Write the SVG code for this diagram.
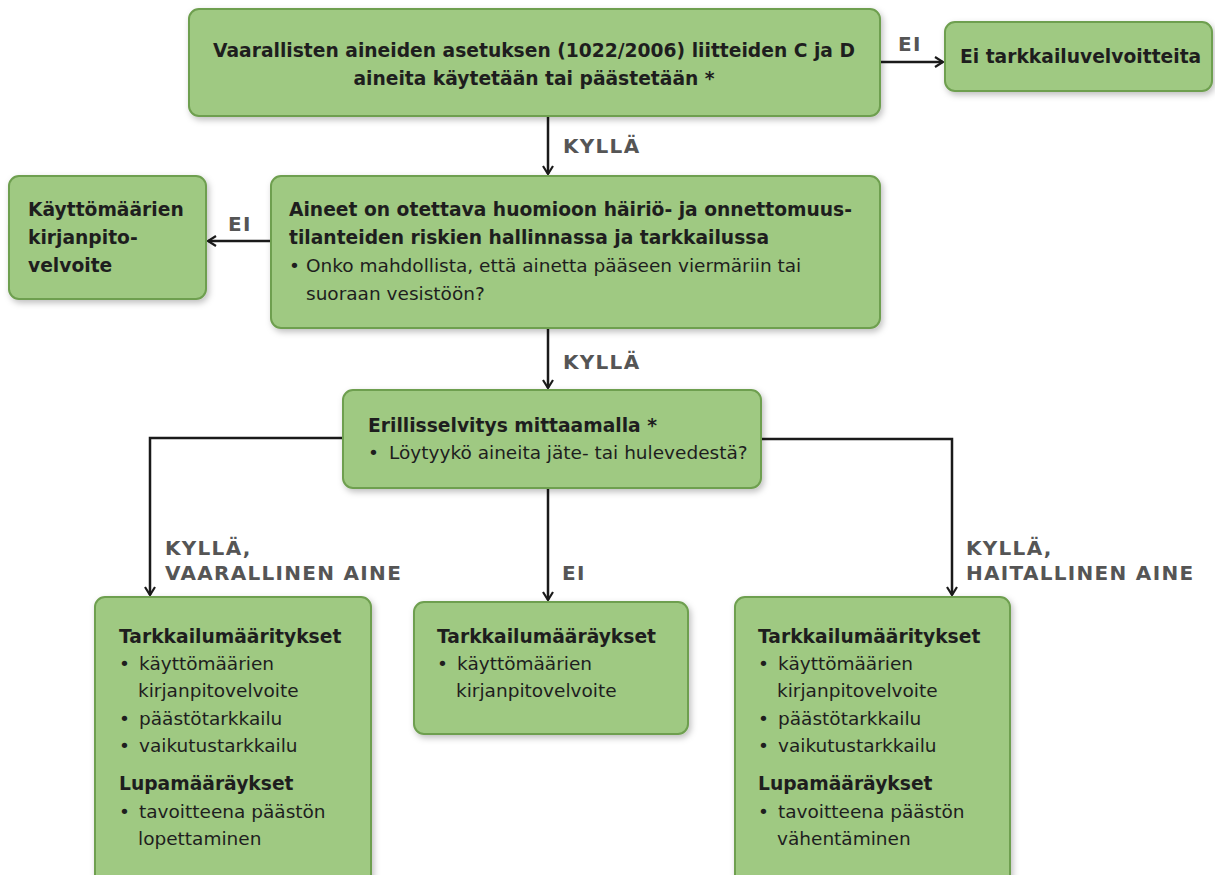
<svg xmlns="http://www.w3.org/2000/svg" width="1215" height="875" viewBox="0 0 1215 875">
<defs>
<filter id="sh" x="-10%" y="-10%" width="130%" height="130%">
<feDropShadow dx="2" dy="3" stdDeviation="3" flood-color="#000" flood-opacity="0.25"/>
</filter>
<marker id="ah" viewBox="0 0 12 12" refX="10" refY="6" markerWidth="12" markerHeight="12" markerUnits="userSpaceOnUse" orient="auto">
<path d="M2,1 L10,6 L2,11" fill="none" stroke="#1a1a1a" stroke-width="2.2"/>
</marker>
</defs>
<style>
.box{fill:#9fc982;stroke:#6e9f4f;stroke-width:2;filter:url(#sh)}
.t{font-family:"DejaVu Sans","Liberation Sans",sans-serif;font-size:18.5px;fill:#1e1e1e}
.b{font-weight:bold;font-size:18.7px}
.lab{font-family:"DejaVu Sans","Liberation Sans",sans-serif;font-size:20px;letter-spacing:1.3px;font-weight:bold;fill:#555}
.c{fill:none;stroke:#1a1a1a;stroke-width:2.5}
</style>
<rect width="1215" height="875" fill="#fff"/>
<g id="connectors">
<path class="c" d="M880,62 H943" marker-end="url(#ah)"/>
<path class="c" d="M548,116 V174" marker-end="url(#ah)"/>
<path class="c" d="M271,241 H208" marker-end="url(#ah)"/>
<path class="c" d="M548,328 V388" marker-end="url(#ah)"/>
<path class="c" d="M343,438 H150 V595" marker-end="url(#ah)"/>
<path class="c" d="M761,439 H952 V595" marker-end="url(#ah)"/>
<path class="c" d="M548,488 V600" marker-end="url(#ah)"/>
<text class="lab" x="898" y="51">EI</text>
<text class="lab" x="563" y="153">KYLLÄ</text>
<text class="lab" x="228" y="231">EI</text>
<text class="lab" x="563" y="369">KYLLÄ</text>
<text class="lab" x="165" y="555">KYLLÄ,</text>
<text class="lab" x="165" y="580">VAARALLINEN AINE</text>
<text class="lab" x="562" y="580">EI</text>
<text class="lab" x="966" y="555">KYLLÄ,</text>
<text class="lab" x="966" y="580">HAITALLINEN AINE</text>
</g>
<g id="n1">
<rect class="box" x="189" y="9" width="691" height="107" rx="10"/>
<text class="t b" x="534" y="57" text-anchor="middle">Vaarallisten aineiden asetuksen (1022/2006) liitteiden C ja D</text>
<text class="t b" x="534" y="85" text-anchor="middle">aineita käytetään tai päästetään *</text>
</g>
<g id="n2">
<rect class="box" x="945" y="22" width="267" height="69" rx="10"/>
<text class="t b" x="960" y="63">Ei tarkkailuvelvoitteita</text>
</g>
<g id="n3">
<rect class="box" x="271" y="176" width="609" height="152" rx="10"/>
<text class="t b" x="289" y="216">Aineet on otettava huomioon häiriö- ja onnettomuus-</text>
<text class="t b" x="289" y="244">tilanteiden riskien hallinnassa ja tarkkailussa</text>
<text class="t" y="272"><tspan x="289">•</tspan><tspan x="306">Onko mahdollista, että ainetta pääseen viermäriin tai</tspan></text>
<text class="t" x="306" y="300">suoraan vesistöön?</text>
</g>
<g id="n4">
<rect class="box" x="9" y="176" width="197" height="123" rx="10"/>
<text class="t b" x="28" y="216">Käyttömäärien</text>
<text class="t b" x="28" y="244">kirjanpito-</text>
<text class="t b" x="28" y="272">velvoite</text>
</g>
<g id="n5">
<rect class="box" x="343" y="390" width="418" height="98" rx="10"/>
<text class="t b" x="368" y="432">Erillisselvitys mittaamalla *</text>
<text class="t" y="459"><tspan x="368">•</tspan><tspan x="389">Löytyykö aineita jäte- tai hulevedestä?</tspan></text>
</g>
<g id="n6">
<rect class="box" x="95" y="597" width="276" height="290" rx="10"/>
<text class="t b" x="119" y="643">Tarkkailumääritykset</text>
<text class="t" y="670"><tspan x="119">•</tspan><tspan x="139">käyttömäärien</tspan></text>
<text class="t" x="138" y="697">kirjanpitovelvoite</text>
<text class="t" y="725"><tspan x="119">•</tspan><tspan x="139">päästötarkkailu</tspan></text>
<text class="t" y="752"><tspan x="119">•</tspan><tspan x="139">vaikutustarkkailu</tspan></text>
<text class="t b" x="119" y="790">Lupamääräykset</text>
<text class="t" y="818"><tspan x="119">•</tspan><tspan x="139">tavoitteena päästön</tspan></text>
<text class="t" x="138" y="845">lopettaminen</text>
</g>
<g id="n7">
<rect class="box" x="414" y="602" width="274" height="132" rx="10"/>
<text class="t b" x="437" y="643">Tarkkailumääräykset</text>
<text class="t" y="670"><tspan x="437">•</tspan><tspan x="457">käyttömäärien</tspan></text>
<text class="t" x="456" y="697">kirjanpitovelvoite</text>
</g>
<g id="n8">
<rect class="box" x="735" y="597" width="275" height="290" rx="10"/>
<text class="t b" x="758" y="643">Tarkkailumääritykset</text>
<text class="t" y="670"><tspan x="758">•</tspan><tspan x="778">käyttömäärien</tspan></text>
<text class="t" x="777" y="697">kirjanpitovelvoite</text>
<text class="t" y="725"><tspan x="758">•</tspan><tspan x="778">päästötarkkailu</tspan></text>
<text class="t" y="752"><tspan x="758">•</tspan><tspan x="778">vaikutustarkkailu</tspan></text>
<text class="t b" x="758" y="790">Lupamääräykset</text>
<text class="t" y="818"><tspan x="758">•</tspan><tspan x="778">tavoitteena päästön</tspan></text>
<text class="t" x="777" y="845">vähentäminen</text>
</g>
</svg>
